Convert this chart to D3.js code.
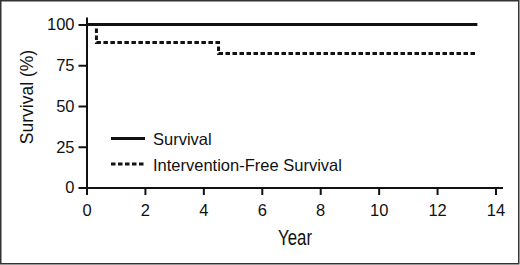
<!DOCTYPE html>
<html lang="en">
	<head>
		<meta charset="utf-8">
		<title>Survival curve</title>
		<script src="https://cdn.jsdelivr.net/npm/d3@7"></script>
		<style>
			body { margin: 0; background: white; }
			text { font-family: "Liberation Sans", Arial, sans-serif; fill: #111; }
			.axis path, .axis line { stroke: #111; stroke-width: 2; }
			.axis text { font-size: 16.5px; }
		</style>
	</head>
	<body>
		<script>

			// Size of the picture
			let w = 520;
			let h = 265;

			// Kaplan-Meier steps
			let survivalYears = [0, 13.38];
			let survivalPct = [100, 100];
			let freeYears = [0, 0.34, 4.52, 13.38];
			let freePct = [100, 88.9, 82.2, 82.2];

			let xTicks = [0, 2, 4, 6, 8, 10, 12, 14];
			let yTicks = [0, 25, 50, 75, 100];
			let seriesNames = ["Survival", "Intervention-Free Survival"];

			let x = d3.scaleLinear().domain([0, 14.24]).range([86.5, 502.5]);
			let y = d3.scaleLinear().domain([0, 104.6]).range([187.5, 17]);

			let svg = d3.select("body")
						.append("svg")
						  .attr("width", w)
						  .attr("height", h);

			// Outer frame
			svg.append("rect")
			     .attr("x", 0.75).attr("y", 0.75)
			     .attr("width", w - 2).attr("height", h - 2)
			     .attr("fill", "none")
			     .attr("stroke", "#333")
			     .attr("stroke-width", 1.5);

			// Axes
			svg.append("g")
			     .attr("class", "axis")
			     .attr("transform", `translate(0,${y(0)})`)
			     .call(d3.axisBottom(x).tickValues(xTicks).tickSize(7.5).tickSizeOuter(0).tickPadding(9));

			svg.append("g")
			     .attr("class", "axis")
			     .attr("transform", `translate(${x(0)},0)`)
			     .call(d3.axisLeft(y).tickValues(yTicks).tickSize(8).tickSizeOuter(0).tickPadding(4));

			svg.selectAll(".axis text").attr("fill", "#111");

			// Axis titles
			svg.append("text")
			     .attr("x", 295).attr("y", 245)
			     .attr("text-anchor", "middle")
			     .attr("font-size", "21.5px")
			     .attr("textLength", 34)
			     .attr("lengthAdjust", "spacingAndGlyphs")
			     .text("Year");

			svg.append("text")
			     .attr("transform", "translate(32.5,97) rotate(-90)")
			     .attr("text-anchor", "middle")
			     .attr("font-size", "17.5px")
			     .text("Survival (%)");

			// Survival lines
			let line = d3.line()
						.x(d => x(d[0]))
						.y(d => y(d[1]))
						.curve(d3.curveStepAfter);

			svg.append("path")
			     .datum(d3.zip(freeYears, freePct))
			     .attr("d", line)
			     .attr("fill", "none")
			     .attr("stroke", "#111")
			     .attr("stroke-width", 3)
			     .attr("stroke-dasharray", "4.5,2.5");

			svg.append("path")
			     .datum(d3.zip(survivalYears, survivalPct))
			     .attr("d", line)
			     .attr("fill", "none")
			     .attr("stroke", "#111")
			     .attr("stroke-width", 3);

			// Legend
			let legend = svg.selectAll("g.legend")
						    .data(seriesNames)
						    .enter()
						  .append("g")
						    .attr("class", "legend")
						    .attr("transform", (d, i) => `translate(111,${138.5 + i * 25.5})`);

			legend.append("line")
			        .attr("x1", 0).attr("x2", 34)
			        .attr("stroke", "#111")
			        .attr("stroke-width", 3)
			        .attr("stroke-dasharray", (d, i) => i ? "4.5,2.5" : null);

			legend.append("text")
			        .attr("x", 42).attr("y", 6.5)
			        .attr("font-size", "16.5px")
			        .text(d => d);

		</script>
	</body>
</html>
